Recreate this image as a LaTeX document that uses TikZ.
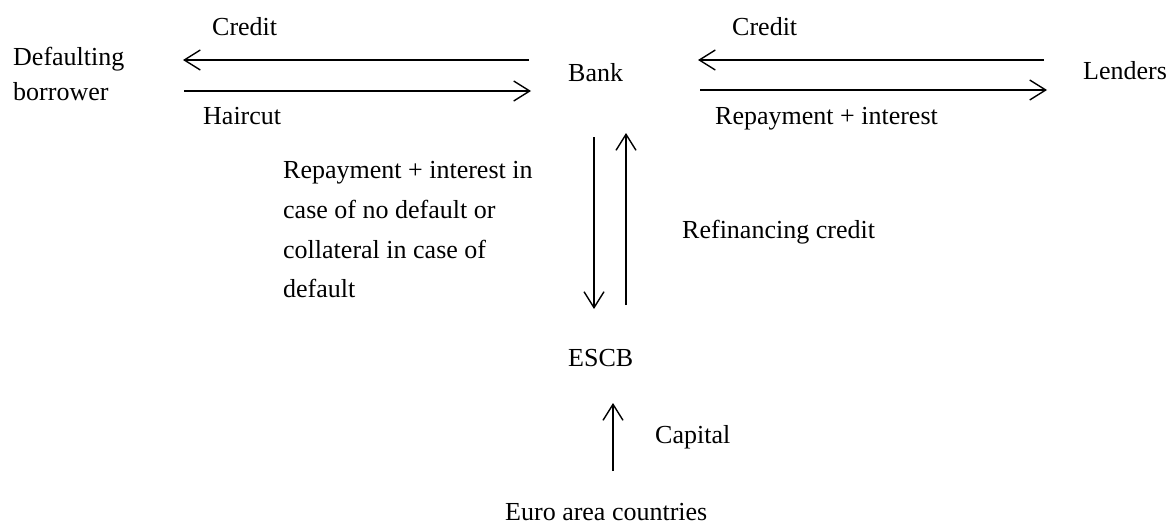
\documentclass[tikz,border=0pt]{standalone}
\usepackage{fontspec}
\setmainfont{Liberation Serif}
\usetikzlibrary{arrows.meta}
\begin{document}
\begin{tikzpicture}[x=1pt,y=-1pt,
  lbl/.style={anchor=base west,inner sep=0pt,font=\fontsize{26}{39.7}\selectfont},
  flow/.style={line width=1.4pt,-{Straight Barb[length=16pt,width=20pt,line width=1.4pt]}}]
\useasboundingbox (0,0) rectangle (1169,525);
% nodes
\node[lbl] (def1) at (13,65) {Defaulting};
\node[lbl] (def2) at (13,100) {borrower};
\node[lbl] (bank) at (568,81) {Bank};
\node[lbl] (lenders) at (1083,79) {Lenders};
\node[lbl] (escb) at (568,366) {ESCB};
\node[lbl] (euro) at (505,520) {Euro area countries};
% labels
\node[lbl] (credit1) at (212,35) {Credit};
\node[lbl] (haircut) at (203,124) {Haircut};
\node[lbl] (credit2) at (732,35) {Credit};
\node[lbl] (repay) at (715,124) {Repayment + interest};
\node[lbl,anchor=north west,align=left] (coll) at (283,161.2) {Repayment + interest in\\case of no default or\\collateral in case of\\default};
\node[lbl] (refin) at (682,238) {Refinancing credit};
\node[lbl] (capital) at (655,443) {Capital};
% connector end points
\coordinate (c1s) at (529,60); \coordinate (c1e) at (183,60);
\coordinate (h1s) at (184,91); \coordinate (h1e) at (531,91);
\coordinate (c2s) at (1044,60); \coordinate (c2e) at (698,60);
\coordinate (r2s) at (700,90); \coordinate (r2e) at (1047,90);
\coordinate (dns) at (594,137); \coordinate (dne) at (594,309);
\coordinate (ups) at (626,305); \coordinate (upe) at (626,133);
\coordinate (cas) at (613,471); \coordinate (cae) at (613,403);
% connectors
\draw[flow] (c1s) -- (c1e);
\draw[flow] (h1s) -- (h1e);
\draw[flow] (c2s) -- (c2e);
\draw[flow] (r2s) -- (r2e);
\draw[flow] (dns) -- (dne);
\draw[flow] (ups) -- (upe);
\draw[flow] (cas) -- (cae);
\end{tikzpicture}
\end{document}
